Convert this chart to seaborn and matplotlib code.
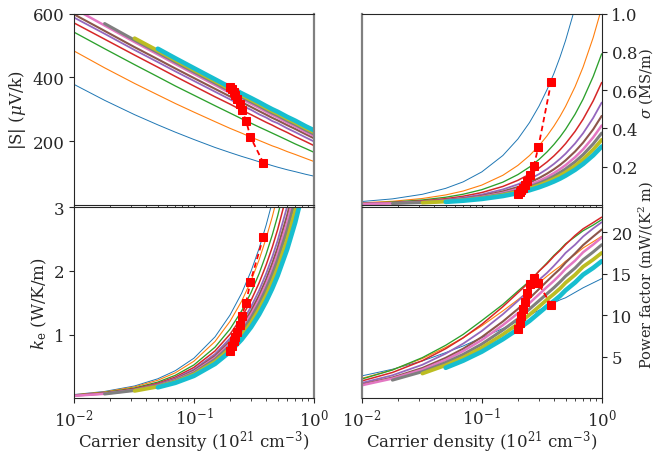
import numpy as np
import pandas as pd
import matplotlib
matplotlib.use("Agg")
import matplotlib.pyplot as plt
import seaborn as sns

NA = np.nan

# carrier density grid (10^21 cm^-3)
density = [0.01, 0.018, 0.032, 0.05, 0.07, 0.1, 0.15, 0.2, 0.25, 0.3,
           0.35, 0.4, 0.45, 0.5, 0.6, 0.7, 0.85, 1.0]
curve_names = [f"c{i}" for i in range(10)]
line_widths = [0.7, 0.8, 0.95, 1.1, 1.3, 1.5, 1.8, 2.2, 2.7, 3.3]

# |S| (uV/K)
seebeck = [
    [378, 328, 283, 251, 228, 205, 180, 164, 152, 143, 135, 129, 123, 118, 110, 104, 96, 90],
    [483, 430, 381, 345, 318, 291, 261, 240, 225, 212, 202, 193, 185, 179, 167, 158, 146, 136],
    [542, 490, 440, 402, 373, 344, 311, 288, 270, 256, 244, 234, 225, 217, 203, 191, 177, 165],
    [571, 520, 470, 432, 403, 373, 339, 316, 297, 283, 270, 259, 250, 241, 227, 214, 199, 186],
    [588, 537, 486, 448, 419, 389, 355, 331, 312, 298, 284, 274, 263, 256, 240, 228, 212, 199],
    [598, 546, 495, 457, 428, 398, 364, 340, 322, 307, 294, 283, 273, 265, 250, 238, 222, 209],
    [616, 563, 511, 472, 442, 411, 376, 351, 332, 317, 304, 292, 282, 274, 258, 246, 229, 216],
    [NA, 569, 517, 478, 448, 417, 382, 357, 338, 323, 310, 298, 288, 280, 264, 252, 235, 222],
    [NA, NA, 523, 484, 454, 423, 388, 363, 344, 329, 316, 304, 294, 286, 270, 258, 241, 228],
    [NA, NA, NA, 490, 460, 429, 394, 369, 350, 335, 322, 310, 300, 292, 276, 264, 247, 234],
]

# sigma (MS/m)
sigma = [
    [0.0172, 0.031, 0.055, 0.086, 0.120, 0.172, 0.258, 0.344, 0.43, 0.516, 0.602, 0.688, 0.774, 0.86, 1.032, 1.204, 1.462, 1.72],
    [0.0103, 0.0185, 0.033, 0.0515, 0.0721, 0.103, 0.1545, 0.206, 0.2575, 0.309, 0.3605, 0.412, 0.4635, 0.515, 0.618, 0.721, 0.8755, 1.03],
    [0.0079, 0.0142, 0.0253, 0.0395, 0.0553, 0.079, 0.1185, 0.158, 0.1975, 0.237, 0.2765, 0.316, 0.3555, 0.395, 0.474, 0.553, 0.6715, 0.79],
    [0.0064, 0.0115, 0.0205, 0.032, 0.0448, 0.064, 0.096, 0.128, 0.16, 0.192, 0.224, 0.256, 0.288, 0.32, 0.384, 0.448, 0.544, 0.64],
    [0.0054, 0.0096, 0.0171, 0.0268, 0.0375, 0.0535, 0.0803, 0.107, 0.134, 0.1605, 0.187, 0.214, 0.241, 0.2675, 0.321, 0.3745, 0.455, 0.535],
    [0.0047, 0.0084, 0.0149, 0.0233, 0.0326, 0.0465, 0.0698, 0.093, 0.116, 0.1395, 0.163, 0.186, 0.209, 0.2325, 0.279, 0.3255, 0.395, 0.465],
    [0.0042, 0.0075, 0.0133, 0.0208, 0.0291, 0.0415, 0.0623, 0.083, 0.104, 0.1245, 0.145, 0.166, 0.187, 0.2075, 0.249, 0.2905, 0.353, 0.415],
    [NA, 0.0068, 0.012, 0.0188, 0.0263, 0.0375, 0.0563, 0.075, 0.094, 0.1125, 0.131, 0.15, 0.169, 0.1875, 0.225, 0.2625, 0.319, 0.375],
    [NA, NA, 0.0109, 0.017, 0.0238, 0.034, 0.051, 0.068, 0.085, 0.102, 0.119, 0.136, 0.153, 0.17, 0.204, 0.238, 0.289, 0.34],
    [NA, NA, NA, 0.0153, 0.0214, 0.0305, 0.0458, 0.061, 0.076, 0.0915, 0.107, 0.122, 0.137, 0.1525, 0.183, 0.2135, 0.259, 0.305],
]

# electronic thermal conductivity (W/K/m)
kappa_e = [
    [0.059, 0.108, 0.194, 0.307, 0.434, 0.630, 0.965, 1.307, 1.65, 2.000, 2.356, 2.719, 3.082, 3.449, 4.191, 4.943, 6.085, 7.26],
    [0.055, 0.100, 0.180, 0.284, 0.401, 0.583, 0.892, 1.208, 1.525, 1.848, 2.178, 2.513, 2.849, 3.187, 3.874, 4.569, 5.624, 6.71],
    [0.049, 0.090, 0.162, 0.255, 0.361, 0.524, 0.803, 1.087, 1.373, 1.663, 1.960, 2.262, 2.564, 2.869, 3.486, 4.112, 5.062, 6.04],
    [0.046, 0.083, 0.150, 0.236, 0.334, 0.485, 0.743, 1.006, 1.27, 1.539, 1.814, 2.093, 2.372, 2.654, 3.226, 3.805, 4.684, 5.59],
    [0.043, 0.078, 0.140, 0.221, 0.313, 0.454, 0.695, 0.941, 1.188, 1.439, 1.696, 1.957, 2.218, 2.482, 3.016, 3.558, 4.380, 5.23],
    [0.041, 0.074, 0.133, 0.211, 0.298, 0.433, 0.663, 0.897, 1.133, 1.373, 1.617, 1.866, 2.116, 2.367, 2.877, 3.393, 4.177, 4.98],
    [0.039, 0.071, 0.128, 0.202, 0.286, 0.415, 0.636, 0.861, 1.088, 1.318, 1.553, 1.792, 2.031, 2.273, 2.762, 3.258, 4.011, 4.79],
    [NA, 0.068, 0.123, 0.194, 0.274, 0.398, 0.610, 0.826, 1.043, 1.264, 1.489, 1.718, 1.947, 2.179, 2.648, 3.123, 3.845, 4.59],
    [NA, NA, 0.116, 0.183, 0.259, 0.375, 0.575, 0.778, 0.983, 1.191, 1.403, 1.619, 1.835, 2.053, 2.496, 2.944, 3.623, 4.32],
    [NA, NA, NA, 0.172, 0.243, 0.352, 0.540, 0.731, 0.923, 1.118, 1.317, 1.520, 1.723, 1.928, 2.343, 2.764, 3.402, 4.06],
]

# power factor (mW/(K^2 m))
power_factor = [
    [2.7, 3.5, 4.5, 5.5, 6.3, 7.3, 8.4, 9.3, 10.0, 10.6, 11.1, 11.5, 11.85, 12.1, 12.75, 13.3, 13.9, 14.4],
    [2.40, 3.42, 4.79, 6.13, 7.29, 8.72, 10.52, 11.87, 13.0, 13.89, 14.7, 15.35, 15.9, 16.50, 17.3, 18.1, 18.85, 19.5],
    [2.32, 3.41, 4.90, 6.38, 7.69, 9.35, 11.3, 12.9, 14.1, 15.3, 16.3, 17.2, 17.9, 18.6, 19.45, 20.17, 20.85, 21.5],
    [2.09, 3.11, 4.53, 5.97, 7.28, 8.90, 11.03, 12.7, 14.0, 15.3, 16.2, 17.1, 17.8, 18.5, 19.6, 20.4, 21.15, 21.8],
    [1.85, 2.77, 4.04, 5.38, 6.58, 8.10, 10.12, 11.72, 13.04, 14.25, 15.1, 15.95, 16.75, 17.5, 18.49, 19.47, 20.45, 21.19],
    [1.66, 2.50, 3.65, 4.87, 5.97, 7.37, 9.25, 10.75, 12.03, 13.15, 14.09, 14.90, 15.58, 16.33, 17.44, 18.44, 19.47, 20.31],
    [1.57, 2.38, 3.47, 4.63, 5.69, 7.01, 8.81, 10.23, 11.46, 12.51, 13.40, 14.15, 14.87, 15.58, 16.57, 17.58, 18.51, 19.36],
    [NA, 2.19, 3.21, 4.30, 5.28, 6.52, 8.22, 9.56, 10.74, 11.74, 12.59, 13.32, 14.02, 14.70, 15.68, 16.67, 17.62, 18.48],
    [NA, NA, 2.98, 3.98, 4.91, 6.08, 7.68, 8.96, 10.06, 11.04, 11.88, 12.57, 13.22, 13.91, 14.87, 15.84, 16.7, 17.5],
    [NA, NA, NA, 3.67, 4.53, 5.61, 7.11, 8.31, 9.31, 10.27, 11.09, 11.72, 12.33, 13.00, 13.94, 14.88, 15.7, 16.5],
]

# red markers (one per curve)
opt_density = [0.38, 0.296, 0.272, 0.251, 0.240, 0.230, 0.221, 0.214, 0.208, 0.2005]
opt_seebeck = [131, 213, 264, 297, 318, 333, 346, 354, 363, 371]
opt_sigma = [0.645, 0.300, 0.205, 0.155, 0.123, 0.101, 0.087, 0.075, 0.066, 0.056]
opt_kappa = [2.54, 1.83, 1.50, 1.30, 1.15, 1.04, 0.97, 0.90, 0.82, 0.74]
opt_pf = [11.2, 13.85, 14.5, 13.8, 12.7, 11.6, 10.7, 9.85, 9.1, 8.3]


def to_long(table):
    rows = []
    for name, vals in zip(curve_names, table):
        for n, v in zip(density, vals):
            if not np.isnan(v):
                rows.append((name, n, v))
    return pd.DataFrame(rows, columns=["curve", "n", "value"])


sns.set_theme(style="ticks", rc={
    "axes.linewidth": 0.8,
    "xtick.major.size": 3.5, "xtick.minor.size": 2,
    "ytick.major.size": 3.5, "ytick.minor.size": 2,
    "xtick.major.width": 0.8, "ytick.major.width": 0.8,
    "xtick.minor.width": 0.6,
    "xtick.major.pad": 3.0, "ytick.major.pad": 3.5,
    "axes.labelpad": 3.0,
    "font.size": 12, "axes.labelsize": 12,
    "xtick.labelsize": 12, "ytick.labelsize": 12,
})
plt.rcParams["font.family"] = ["DejaVu Serif"]
plt.rcParams["mathtext.fontset"] = "dejavuserif"

palette = dict(zip(curve_names, sns.color_palette("tab10", 10)))
sizes = dict(zip(curve_names, line_widths))

fig, axes = plt.subplots(2, 2, sharex=True, figsize=(6.56, 4.56), dpi=100)
fig.subplots_adjust(left=0.1128, right=0.9172, top=0.9678, bottom=0.1243,
                    wspace=0.2, hspace=0.0126)

panels = [
    (axes[0, 0], seebeck, opt_seebeck, r"|S| ($\mu$V/k)", (0, 600), [200, 400, 600]),
    (axes[0, 1], sigma, opt_sigma, r"$\sigma$ (MS/m)", (0, 1.0), [0.2, 0.4, 0.6, 0.8, 1.0]),
    (axes[1, 0], kappa_e, opt_kappa, r"$k_\mathrm{e}$ (W/K/m)", (0, 3), [1, 2, 3]),
    (axes[1, 1], power_factor, opt_pf, r"Power factor (mW/(K$^2$ m)", (0, 23), [5, 10, 15, 20]),
]

for ax, table, opt_vals, label, ylim, yticks in panels:
    df = to_long(table)
    sns.lineplot(data=df, x="n", y="value", hue="curve", size="curve",
                 hue_order=curve_names, size_order=curve_names,
                 palette=palette, sizes=sizes, legend=False,
                 errorbar=None, ax=ax)
    sns.lineplot(x=opt_density, y=opt_vals, color="red", marker="s",
                 markersize=6, markeredgecolor="red", linestyle=(0, (3, 2)),
                 linewidth=1.3, sort=False, ax=ax)
    ax.set_xscale("log")
    ax.set_xlim(0.01, 1)
    ax.set_ylim(*ylim)
    ax.set_yticks(yticks)
    ax.set_ylabel(label)
    ax.set_xlabel("")

for ax in axes[1]:
    ax.set_xlabel(r"Carrier density (10$^{21}$ cm$^{-3}$)", labelpad=0)

# right column: ticks and labels on the right
for ax in axes[:, 1]:
    ax.yaxis.tick_right()
    ax.yaxis.set_label_position("right")
    ax.yaxis.label.set_fontsize(10.5)
    ax.spines["left"].set_color("gray")
    ax.spines["left"].set_linewidth(1.6)
axes[0, 1].yaxis.set_label_coords(1.15, 0.64)
axes[1, 1].yaxis.set_label_coords(1.145, 0.65)

for ax in axes[:, 0]:
    ax.spines["right"].set_color("gray")
    ax.spines["right"].set_linewidth(1.6)

fig.savefig("out.png", dpi=100)
